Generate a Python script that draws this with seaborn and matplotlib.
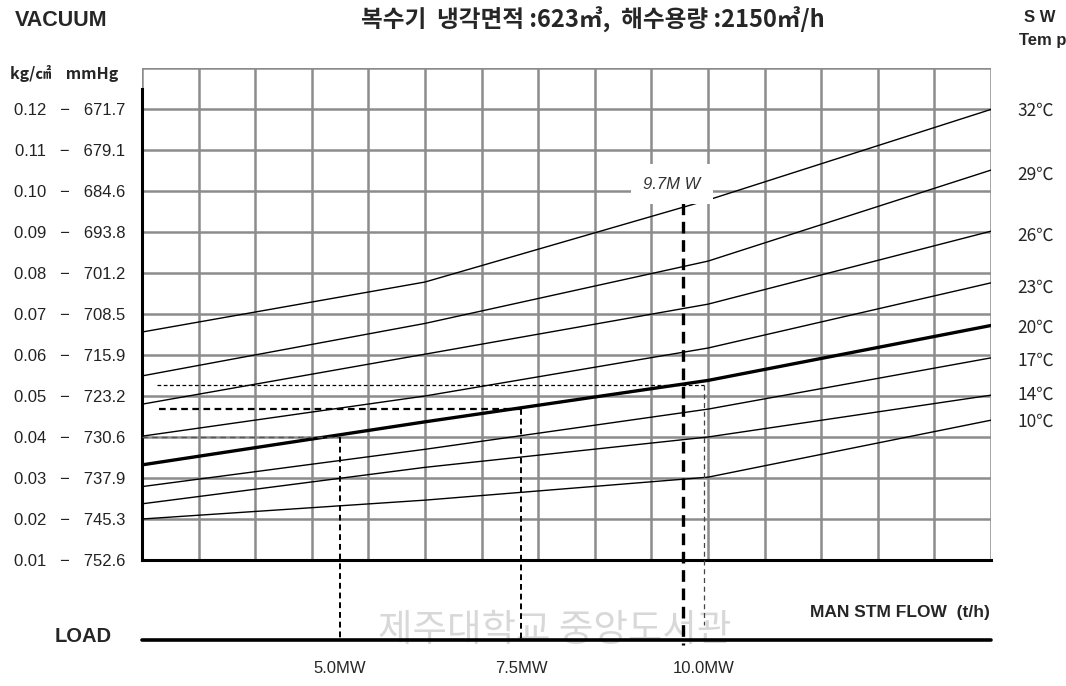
import matplotlib
matplotlib.use("Agg")
import numpy as np
import pandas as pd
import matplotlib.pyplot as plt
import seaborn as sns

# 곡선 데이터 (x: 그리드 칸 단위 증기유량, y: 진공 kg/cm2)
flow_pts = [0, 5, 10, 15]
temps = ["32℃", "29℃", "26℃", "23℃", "20℃", "17℃", "14℃", "10℃"]
vac_32 = [0.0656, 0.0778, 0.0978, 0.1199]
vac_29 = [0.0549, 0.0677, 0.0829, 0.1051]
vac_26 = [0.0480, 0.0602, 0.0724, 0.0902]
vac_23 = [0.0402, 0.0500, 0.0617, 0.0776]
vac_20 = [0.0332, 0.0437, 0.0538, 0.0672]
vac_17 = [0.0279, 0.0370, 0.0468, 0.0593]
vac_14 = [0.0237, 0.0326, 0.0400, 0.0502]
vac_10 = [0.0200, 0.0246, 0.0302, 0.0441]
temp_label_y = [0.1195, 0.1039, 0.0890, 0.0763, 0.0666, 0.0585, 0.0502, 0.0437]

kg_ticks = [0.12, 0.11, 0.10, 0.09, 0.08, 0.07, 0.06, 0.05, 0.04, 0.03, 0.02, 0.01]
mmhg_ticks = ["671.7", "679.1", "684.6", "693.8", "701.2", "708.5", "715.9",
              "723.2", "730.6", "737.9", "745.3", "752.6"]

# 부하 기준선 (MW)
load_names = ["5.0MW", "7.5MW", "10.0MW"]
load_x = [3.5, 6.7, 9.93]
load_vac = [0.040, 0.0469, 0.0527]
mw97_x = 9.56
mw97_top = 0.0971

series = [vac_32, vac_29, vac_26, vac_23, vac_20, vac_17, vac_14, vac_10]
rows = []
for t, vals in zip(temps, series):
    for x, v in zip(flow_pts, vals):
        rows.append({"flow": x, "vac": v, "temp": t})
df = pd.DataFrame(rows)

sns.set_theme(style="white")
plt.rcParams['font.family'] = ['Noto Sans CJK KR', 'DejaVu Sans']
arial = ["Liberation Sans", "Noto Sans CJK KR", "DejaVu Sans"]

fig = plt.figure(figsize=(10.66, 6.86), dpi=100)
ax = fig.add_axes([142 / 1066, 1 - 560 / 686, (991 - 142) / 1066, (560 - 68) / 686])

for t in temps:
    sub = df[df["temp"] == t]
    lw = 2.4 if t == "20℃" else 1.0
    sns.lineplot(data=sub, x="flow", y="vac", color="black", linewidth=lw, ax=ax,
                 legend=False, zorder=3)

ax.set_xlim(0, 15)
ax.set_ylim(0.01, 0.13)
ax.set_xticks(range(16))
ax.set_xticklabels([])
yt = kg_ticks[::-1] + [0.13]
ax.set_yticks(yt)
ax.set_yticklabels([f"{k:.2f}   −   {m}" for k, m in zip(kg_ticks[::-1], mmhg_ticks[::-1])] + [""],
                   fontsize=12, color="#222222", family=arial)
ax.tick_params(axis="both", length=0)
ax.tick_params(axis="y", pad=12)
ax.grid(True, color="#8c8c8c", linewidth=1.8)
ax.set_xlabel("")
ax.set_ylabel("")
for s in ["top", "right"]:
    ax.spines[s].set_visible(False)
ax.spines["left"].set_color("black")
ax.spines["left"].set_linewidth(2.2)
ax.spines["left"].set_bounds(0.01, 0.125)
ax.spines["bottom"].set_color("black")
ax.spines["bottom"].set_linewidth(2.2)

load_y = -0.0095
# 5.0MW
ax.plot([0, load_x[0]], [load_vac[0]] * 2, ls=(0, (4, 3)), color="#555555", lw=1.0, zorder=4)
ax.plot([load_x[0]] * 2, [load_vac[0], load_y], ls=(0, (3, 2)), color="black", lw=1.4,
        zorder=4, clip_on=False)
# 7.5MW
ax.plot([0.3, load_x[1]], [load_vac[1]] * 2, ls=(0, (3, 2)), color="black", lw=1.6, zorder=4)
ax.plot([load_x[1]] * 2, [load_vac[1], load_y], ls=(0, (3, 2)), color="black", lw=1.4,
        zorder=4, clip_on=False)
# 10.0MW
ax.plot([0.27, load_x[2]], [load_vac[2]] * 2, ls=(0, (3, 2)), color="black", lw=0.9, zorder=4)
ax.plot([load_x[2]] * 2, [load_vac[2], -0.0059], ls=(0, (4, 3)), color="#444444", lw=0.9,
        zorder=4, clip_on=False)
# 9.7MW
ax.plot([mw97_x] * 2, [mw97_top, -0.0107], ls=(0, (3.5, 2)), color="black", lw=2.4,
        zorder=5, clip_on=False)
ax.text(9.36, 0.1017, "9.7M W", fontsize=12, style="italic", ha="center", va="center",
        family=arial, color="#333333", zorder=6,
        bbox=dict(facecolor="white", edgecolor="none", pad=9))

# LOAD 선
ax.plot([0, 15], [load_y, load_y], color="black", lw=2.6, clip_on=False, zorder=4)

for t, yv in zip(temps, temp_label_y):
    ax.text(15.47, yv, t, fontsize=12.5, ha="left", va="center", clip_on=False)

for name, x in zip(load_names, load_x):
    ax.text(x, -0.0165, name, fontsize=12, ha="center", va="center", clip_on=False,
            family=arial)

# 워터마크
fig.text(555 / 1066, 1 - 630 / 686, "제주대학교 중앙도서관", fontsize=27, color="#d8d8d8",
         ha="center", va="center", zorder=-1)

# 상단/주변 텍스트
fig.text(15 / 1066, 1 - 20 / 686, "VACUUM", fontsize=15.5, weight="bold", ha="left",
         va="center", family=arial)
fig.text(593 / 1066, 1 - 20 / 686, "복수기  냉각면적 :623㎥,  해수용량 :2150㎥/h",
         fontsize=17, weight="bold", ha="center", va="center")
fig.text(1040 / 1066, 1 - 17 / 686, "S W", fontsize=12, weight="bold", ha="center",
         va="center", family=arial)
fig.text(1043 / 1066, 1 - 40 / 686, "Tem p", fontsize=12, weight="bold", ha="center",
         va="center", family=arial)
fig.text(10 / 1066, 1 - 73 / 686, "kg/㎠    mmHg", fontsize=11.5, weight="bold", ha="left",
         va="center")
fig.text(55 / 1066, 1 - 637 / 686, "LOAD", fontsize=14.5, weight="bold", ha="left",
         va="center", family=arial)
fig.text(990 / 1066, 1 - 612 / 686, "MAN STM FLOW  (t/h)", fontsize=12.5, weight="bold",
         ha="right", va="center", family=arial)

fig.savefig("out.png", dpi=100)
